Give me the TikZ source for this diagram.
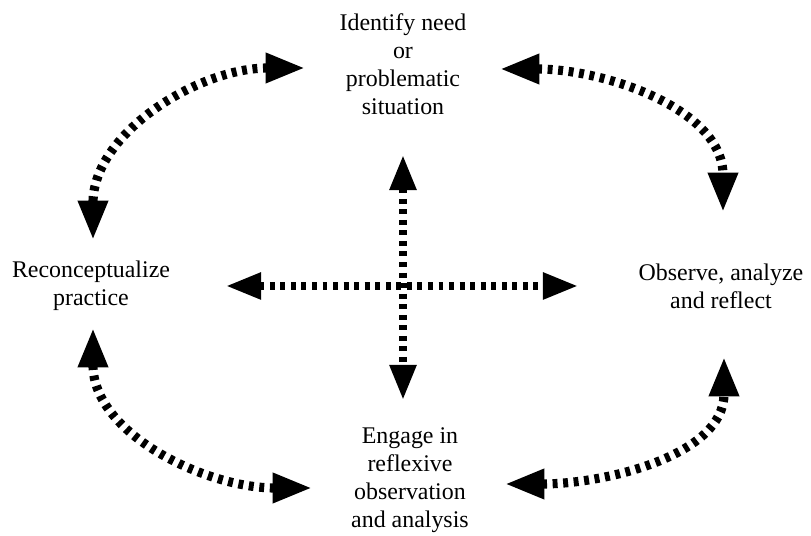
\documentclass[tikz,border=0pt]{standalone}
\usepackage{fontspec}
\setmainfont{Liberation Serif}
\usepackage{tikz}
\usetikzlibrary{arrows.meta, calc}

\begin{document}
\begin{tikzpicture}[
    x=0.025cm, y=0.025cm,
    stage/.style={align=center, inner sep=0pt, font=\fontsize{17}{20}\selectfont},
    dotarrow/.style={line width=6.5pt, dash pattern=on 3.5pt off 4pt, <->,
      >={Triangle[length=28pt, width=20pt]}},
    crossarrow/.style={dotarrow, line width=5.5pt,
      >={Triangle[length=25pt, width=18pt]}}
]
\useasboundingbox (0,0) rectangle (811,536);

\node[stage] (identify) at (403,472) {Identify need\\or\\problematic\\situation};
\node[stage] (reconcept) at (91,250) {Reconceptualize\\practice};
\node[stage] (observe) at (721,250) {Observe, analyze\\and reflect};
\node[stage] (engage) at (410,56) {Engage in\\reflexive\\observation\\and analysis};

% cycle round the outside
\draw[dotarrow] ($(identify)+(-98,-4)$) to[out=180,in=90] ($(reconcept)+(2,46)$);
\draw[dotarrow] ($(identify)+(97,-5)$) to[out=0,in=90] ($(observe)+(2,74)$);
\draw[dotarrow] ($(reconcept)+(2,-42)$) to[out=270,in=180] ($(engage)+(-98,-8)$);
\draw[dotarrow] ($(engage)+(95,-4)$) to[out=0,in=270] ($(observe)+(3,-71)$);

% cross in the middle
\draw[crossarrow] ($(identify)+(0,-91)$) -- ($(engage)+(-7,80)$);
\draw[crossarrow] ($(reconcept)+(135,0)$) -- ($(observe)+(-143,0)$);
\end{tikzpicture}
\end{document}
